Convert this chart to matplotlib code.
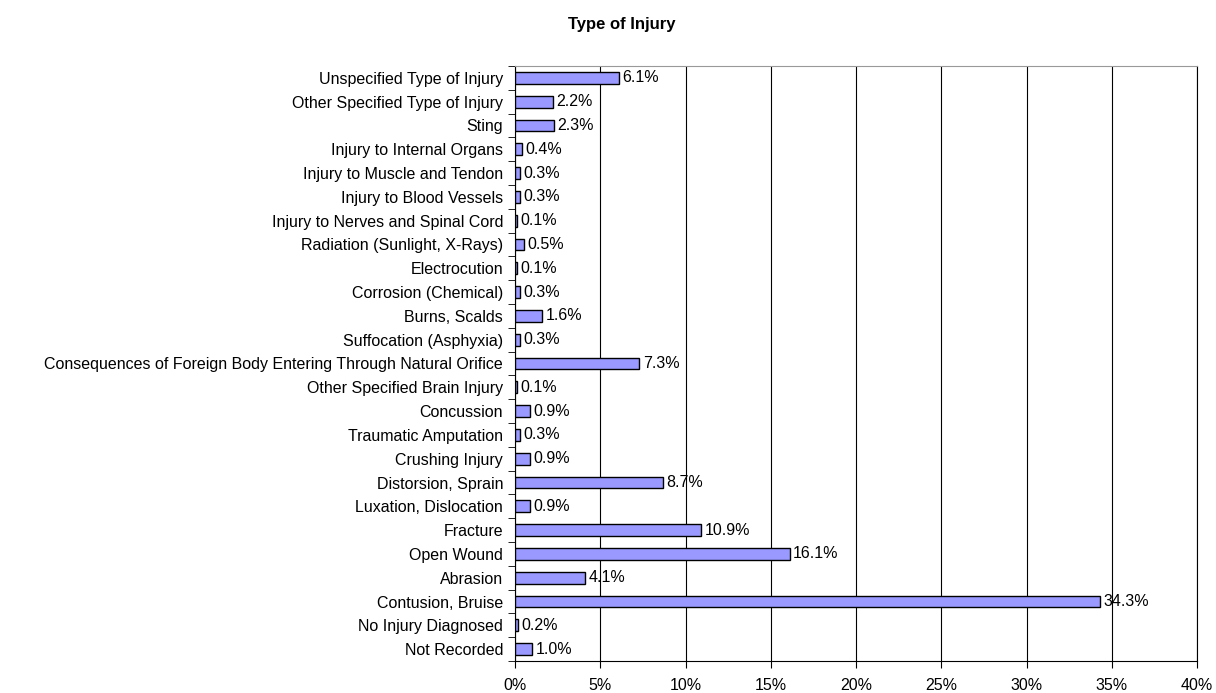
import numpy as np
import matplotlib.pyplot as plt
from matplotlib.ticker import FuncFormatter, FixedLocator

plt.rcParams['font.family'] = ['Liberation Sans', 'DejaVu Sans']

categories = [
    "Not Recorded", "No Injury Diagnosed", "Contusion, Bruise", "Abrasion",
    "Open Wound", "Fracture", "Luxation, Dislocation", "Distorsion, Sprain",
    "Crushing Injury", "Traumatic Amputation", "Concussion",
    "Other Specified Brain Injury",
    "Consequences of Foreign Body Entering Through Natural Orifice",
    "Suffocation (Asphyxia)", "Burns, Scalds", "Corrosion (Chemical)",
    "Electrocution", "Radiation (Sunlight, X-Rays)",
    "Injury to Nerves and Spinal Cord", "Injury to Blood Vessels",
    "Injury to Muscle and Tendon", "Injury to Internal Organs", "Sting",
    "Other Specified Type of Injury", "Unspecified Type of Injury",
]
values = [1.0, 0.2, 34.3, 4.1, 16.1, 10.9, 0.9, 8.7, 0.9, 0.3, 0.9, 0.1,
          7.3, 0.3, 1.6, 0.3, 0.1, 0.5, 0.1, 0.3, 0.3, 0.4, 2.3, 2.2, 6.1]

fig = plt.figure(figsize=(12.16, 6.93), dpi=100)
ax = fig.add_axes([515 / 1216, 1 - 661 / 693, (1197 - 515) / 1216, (661 - 66) / 693])

y = np.arange(len(categories))
ax.barh(y, values, height=0.5, color='#9999FF', edgecolor='black', linewidth=1, zorder=3)
for yi, v in zip(y, values):
    ax.text(v + 0.2, yi, f"{v:.1f}%", va='center', ha='left', fontsize=11.5, zorder=4)

ax.set_xlim(0, 40)
ax.set_ylim(-0.5, len(categories) - 0.5)
ax.set_xticks(np.arange(0, 41, 5))
ax.xaxis.set_major_formatter(FuncFormatter(lambda v, p: f"{v:.0f}%"))
ax.grid(axis='x', color='black', linewidth=0.8, zorder=0)

ax.set_yticks(y)
ax.set_yticklabels(categories, fontsize=11.5)
ax.yaxis.set_minor_locator(FixedLocator(np.arange(-0.5, len(categories), 1)))
ax.tick_params(axis='y', which='major', length=0, pad=8.5)
ax.tick_params(axis='y', which='minor', length=5, direction='out')
ax.tick_params(axis='x', length=5, direction='out', labelsize=11.5, pad=7)

for s in ['left', 'bottom', 'right']:
    ax.spines[s].set_color('black')
ax.spines['top'].set_color('#999999')

fig.suptitle("Type of Injury", fontsize=12, fontweight='bold', y=1 - 25 / 693, va='center', x=622 / 1216)

fig.savefig("out.png", dpi=100)
